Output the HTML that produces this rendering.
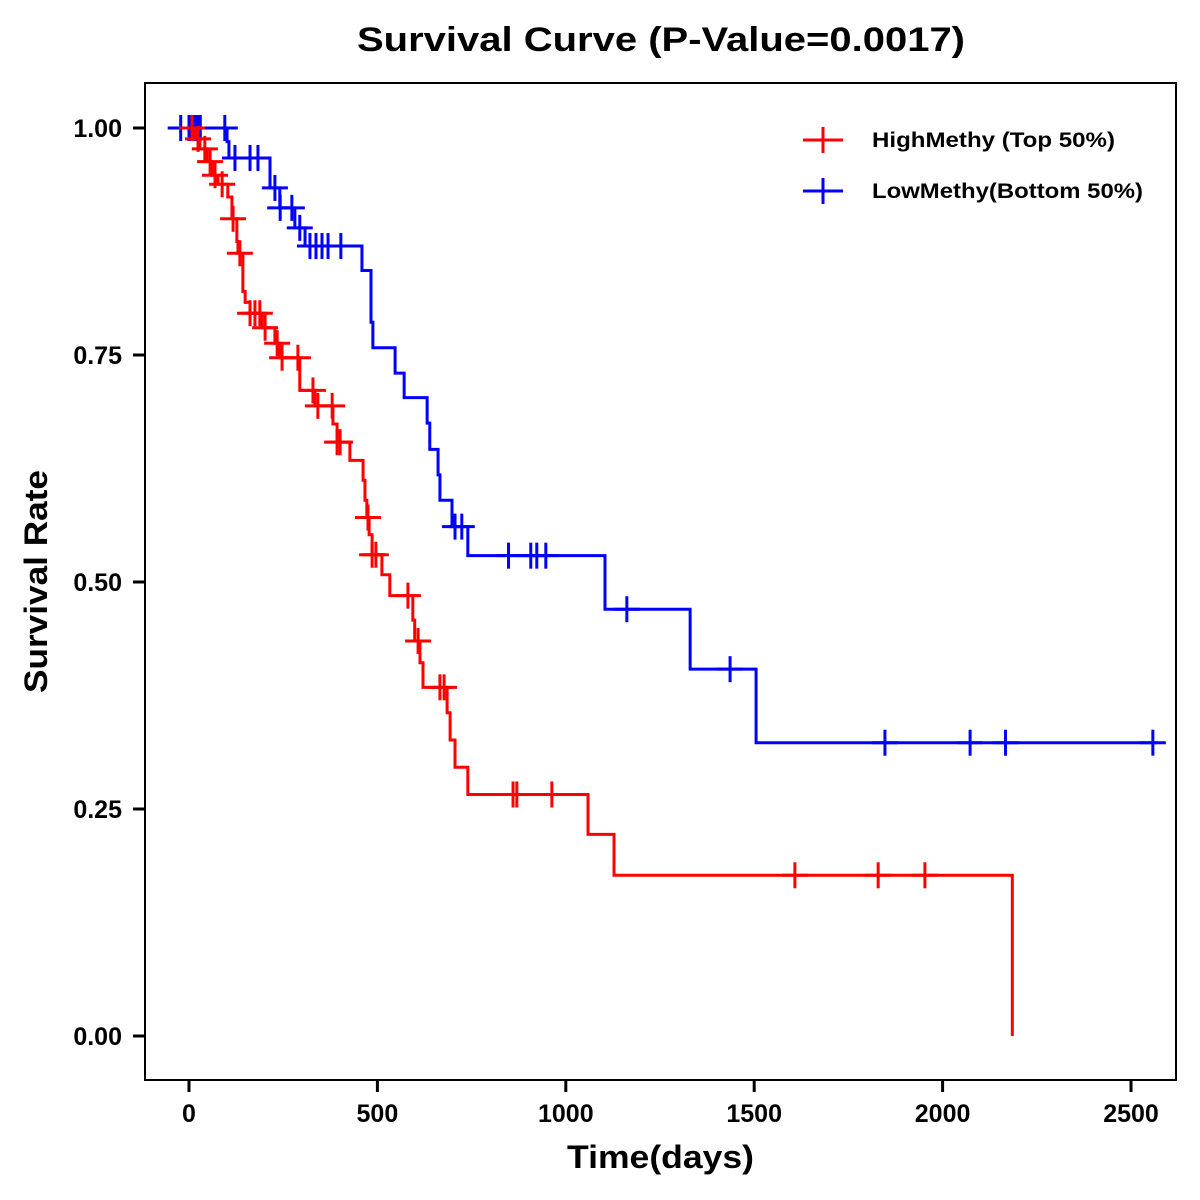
<!DOCTYPE html>
<html><head><meta charset="utf-8"><style>
html,body{margin:0;padding:0;background:#fff;}
svg{display:block;font-family:"Liberation Sans",Arial,sans-serif;}
</style></head><body>
<svg id="chart" width="1200" height="1200" viewBox="0 0 1200 1200">
<text x="357" y="51" font-size="34" font-weight="bold" textLength="608" lengthAdjust="spacingAndGlyphs">Survival Curve (P-Value=0.0017)</text>
<rect x="145" y="83" width="1031" height="997" fill="none" stroke="#000" stroke-width="2"/>
<g id="xaxis"></g>
<g id="yaxis"></g>
<g id="series"></g>
<text x="567" y="1168" font-size="32" font-weight="bold" textLength="187" lengthAdjust="spacingAndGlyphs">Time(days)</text>
<text transform="translate(47,693) rotate(-90)" font-size="32" font-weight="bold" textLength="223" lengthAdjust="spacingAndGlyphs">Survival Rate</text>
<g>
<g>
<line x1="803" y1="140" x2="843" y2="140" stroke="#f00" stroke-width="3"/><line x1="823" y1="127" x2="823" y2="153" stroke="#f00" stroke-width="3"/>
<text x="872" y="147" font-size="21" font-weight="bold" textLength="243" lengthAdjust="spacingAndGlyphs">HighMethy (Top 50%)</text></g>
<g>
<line x1="803" y1="191" x2="843" y2="191" stroke="#00f" stroke-width="3"/><line x1="823" y1="178" x2="823" y2="204" stroke="#00f" stroke-width="3"/>
<text x="872" y="198" font-size="21" font-weight="bold" textLength="271" lengthAdjust="spacingAndGlyphs">LowMethy(Bottom 50%)</text></g>
</g>
</svg>
<script>
const xTicks=[0,500,1000,1500,2000,2500];
const yTicks=[0,0.25,0.5,0.75,1.0];
const yTickLabels=["0.00","0.25","0.50","0.75","1.00"];
const highTimes=[0,16,29,48,61,77,103,114,127,130,143,149,162,194,228,241,294,334,382,393,427,462,467,472,478,486,512,533,594,599,613,621,685,693,706,740,1059,1128,2185];
const highSurv=[1.0,0.988,0.977,0.963,0.948,0.938,0.924,0.9,0.875,0.862,0.82,0.808,0.796,0.78,0.763,0.747,0.711,0.694,0.674,0.654,0.634,0.612,0.59,0.571,0.552,0.53,0.508,0.485,0.458,0.435,0.411,0.384,0.356,0.326,0.296,0.266,0.222,0.177,0.0];
const highEnd=2185;
const highCensor=[8,24,42,56,69,88,117,135,162,175,188,202,234,247,289,329,342,380,393,401,475,486,496,581,608,666,677,860,870,963,1608,1829,1953];
const lowTimes=[0,101,106,215,241,281,308,459,483,488,547,571,632,639,661,666,698,740,1104,1330,1505];
const lowSurv=[1.0,0.985,0.967,0.934,0.912,0.89,0.87,0.843,0.786,0.758,0.73,0.703,0.675,0.646,0.618,0.59,0.561,0.529,0.47,0.404,0.323];
const lowEnd=2570;
const lowCensor=[-22,0,5,10,15,20,25,30,95,122,162,183,228,242,273,294,321,337,353,369,403,706,724,848,907,923,947,1162,1436,1847,2073,2167,2558];

const NS="http://www.w3.org/2000/svg";
function xs(d){return 189+d*(942/2500);}
function ys(s){return 1036-s*908;}
function mk(tag,attrs,parent){const e=document.createElementNS(NS,tag);for(const k in attrs)e.setAttribute(k,attrs[k]);parent.appendChild(e);return e;}
const xa=document.getElementById('xaxis'),ya=document.getElementById('yaxis'),sg=document.getElementById('series');
xTicks.forEach(t=>{
  const l=mk('line',{x1:xs(t),x2:xs(t),y1:1080,y2:1092,stroke:'#000','stroke-width':3},xa);
  
  
  const tx=mk('text',{x:xs(t),y:1122,'text-anchor':'middle','font-size':25,'font-weight':'bold'},xa);
  tx.textContent=t;
  
  
});
yTicks.forEach((t,i)=>{
  const l=mk('line',{x1:133,x2:145,y1:ys(t),y2:ys(t),stroke:'#000','stroke-width':3},ya);
  
  
  const tx=mk('text',{x:122,y:ys(t)+9,'text-anchor':'end','font-size':25,'font-weight':'bold'},ya);
  tx.textContent=yTickLabels[i];
  
  
});
function survAt(times,surv,t){let s=surv[0];for(let i=0;i<times.length;i++){if(times[i]<=t)s=surv[i];}return s;}
function drawCurve(times,surv,end,censor,color,name){
  let d='M'+xs(Math.min(0,censor[0]))+','+ys(surv[0]);
  for(let i=1;i<times.length;i++){d+=' H'+xs(times[i])+' V'+ys(surv[i]);}
  d+=' H'+xs(end);
  const p=mk('path',{d:d,fill:'none',stroke:color,'stroke-width':3},sg);
  
  
  censor.forEach(c=>{
    const s=survAt(times,surv,c);
    const g=mk('g',{},sg);
    
    
    mk('line',{x1:xs(c)-13,x2:xs(c)+13,y1:ys(s),y2:ys(s),stroke:color,'stroke-width':3},g);
    mk('line',{x1:xs(c),x2:xs(c),y1:ys(s)-13,y2:ys(s)+13,stroke:color,'stroke-width':3},g);
  });
}
drawCurve(lowTimes,lowSurv,lowEnd,lowCensor,'#0000ff','low-methy');
drawCurve(highTimes,highSurv,highEnd,highCensor,'#ff0000','high-methy');
</script>
</body></html>
